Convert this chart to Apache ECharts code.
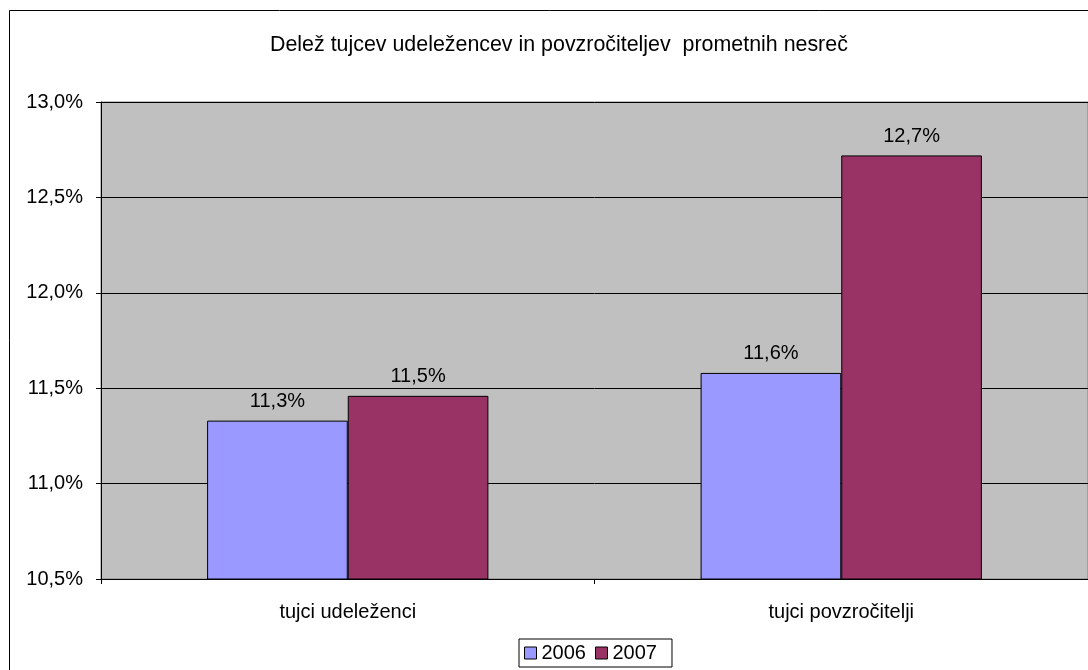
<!DOCTYPE html>
<html>
<head>
<meta charset="utf-8">
<script src="https://cdn.jsdelivr.net/npm/echarts@6/dist/echarts.min.js"></script>
<style>
html,body{margin:0;padding:0;background:#fff;}
#c{width:1088px;height:670px;}
</style>
</head>
<body>
<div id="c"></div>
<script>
const categories = ['tujci udeleženci', 'tujci povzročitelji'];
const seriesNames = ['2006', '2007'];
const values2006 = [11.33, 11.58];
const values2007 = [11.46, 12.72];
const yTicks = { min: 10.5, max: 13.0, step: 0.5 };
const titleText = 'Delež tujcev udeležencev in povzročiteljev  prometnih nesreč';

const fmt = v => v.toFixed(1).replace('.', ',') + '%';
const font = 'Liberation Sans, Arial, sans-serif';

const chart = echarts.init(document.getElementById('c'));
const barBase = {
  type: 'bar',
  barGap: '0%',
  barCategoryGap: '43%',
  label: {
    show: true, position: 'top', distance: 9,
    formatter: p => fmt(p.value),
    color: '#000', fontFamily: font, fontSize: 20
  },
  emphasis: { disabled: true }
};
chart.setOption({
  animation: false,
  backgroundColor: '#fff',
  title: {
    text: titleText, left: 265, top: 30,
    textStyle: { fontFamily: font, fontSize: 21.4, fontWeight: 'normal', color: '#000' }
  },
  graphic: [{
    type: 'rect', shape: { x: 9.5, y: 10.5, width: 1200, height: 800 },
    style: { fill: 'none', stroke: '#000', lineWidth: 1 }, silent: true, z: 100
  }],
  grid: {
    left: 101, right: -1, top: 102, bottom: 91,
    show: true, backgroundColor: '#C0C0C0', borderColor: '#808080', borderWidth: 1
  },
  legend: {
    data: seriesNames, left: 519, top: 639,
    icon: 'rect', itemWidth: 12, itemHeight: 12, itemGap: 9,
    padding: [4, 15, 4, 5], borderColor: '#000', borderWidth: 1,
    textStyle: { fontFamily: font, fontSize: 20, color: '#000', padding: [0, 0, 0, 0] },
    itemStyle: { borderColor: '#000', borderWidth: 1 }
  },
  xAxis: {
    type: 'category', data: categories,
    axisLine: { lineStyle: { color: '#000' } },
    axisTick: { show: true, length: 5, lineStyle: { color: '#000' } },
    axisLabel: { fontFamily: font, fontSize: 20, color: '#000', margin: 23 }
  },
  yAxis: {
    type: 'value', min: yTicks.min, max: yTicks.max, interval: yTicks.step,
    axisLine: { show: true, lineStyle: { color: '#000' } },
    axisTick: { show: true, length: 5, lineStyle: { color: '#000' } },
    axisLabel: { formatter: fmt, fontFamily: font, fontSize: 20, color: '#000', margin: 18 },
    splitLine: { show: true, lineStyle: { color: '#000', width: 1 } }
  },
  series: [
    Object.assign({}, barBase, { name: seriesNames[0], data: values2006,
      itemStyle: { color: '#9999FF', borderColor: '#000', borderWidth: 1 } }),
    Object.assign({}, barBase, { name: seriesNames[1], data: values2007,
      itemStyle: { color: '#993366', borderColor: '#000', borderWidth: 1 } })
  ]
});
</script>
</body>
</html>
